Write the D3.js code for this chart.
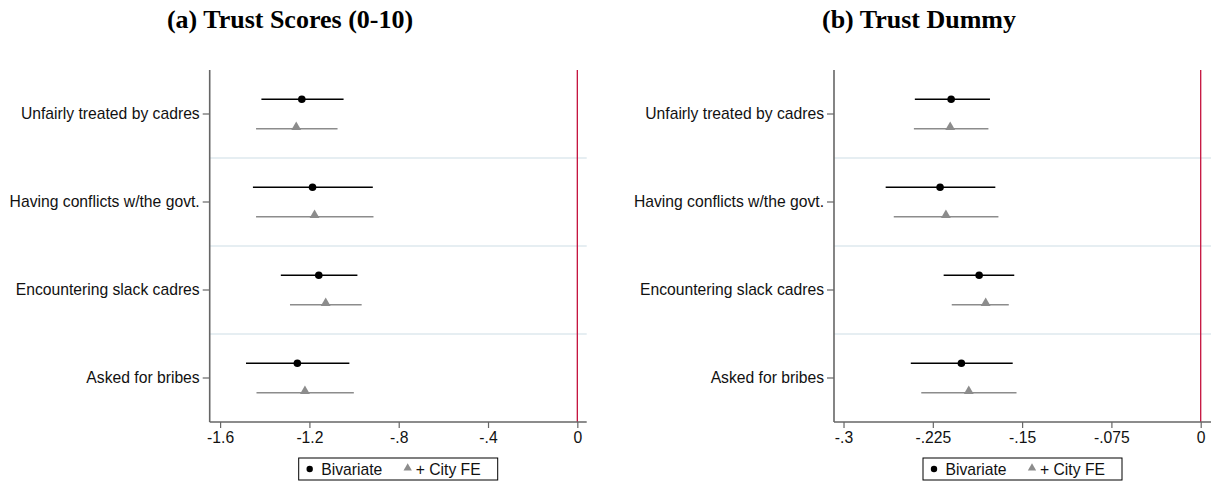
<!DOCTYPE html>
<html>
<head>
<meta charset="utf-8">
<script src="https://cdn.jsdelivr.net/npm/d3@7"></script>
<style>
body { margin: 0; background: #fff; }
text { font-family: "Liberation Sans", Arial, sans-serif; }
.title { font-family: "Liberation Serif", "Times New Roman", serif; font-weight: bold; }
</style>
</head>
<body>
<script>

// categories, top to bottom
var categories = ["Unfairly treated by cadres", "Having conflicts w/the govt.",
                  "Encountering slack cadres", "Asked for bribes"];

// panel (a): [estimate, ci low, ci high]
var scoreBivariate = [[-1.234, -1.415, -1.047], [-1.186, -1.453, -0.916],
                      [-1.158, -1.328, -0.985], [-1.254, -1.484, -1.021]];
var scoreCityFE    = [[-1.259, -1.439, -1.074], [-1.177, -1.439, -0.913],
                      [-1.127, -1.287, -0.966], [-1.220, -1.437, -1.001]];
var scoreTicks = [-1.6, -1.2, -0.8, -0.4, 0];
var scoreTickLabels = ["-1.6", "-1.2", "-.8", "-.4", "0"];

// panel (b)
var dummyBivariate = [[-0.2096, -0.2401, -0.1770], [-0.2189, -0.2646, -0.1725],
                      [-0.1861, -0.2159, -0.1566], [-0.2010, -0.2435, -0.1579]];
var dummyCityFE    = [[-0.2104, -0.2409, -0.1783], [-0.2140, -0.2578, -0.1699],
                      [-0.1806, -0.2091, -0.1612], [-0.1948, -0.2347, -0.1547]];
var dummyTicks = [-0.3, -0.225, -0.15, -0.075, 0];
var dummyTickLabels = ["-.3", "-.225", "-.15", "-.075", "0"];

var legendLabels = ["Bivariate", "+ City FE"];

var width = 1216, height = 489;
var plotTop = 70, plotBottom = 422;

var svg = d3.select("body").append("svg")
    .attr("width", width)
    .attr("height", height);

function drawPanel(opts) {
    var g = svg.append("g");
    var x = d3.scaleLinear().domain(opts.domain).range([opts.left, opts.right]);
    var y = d3.scaleBand().domain(categories).range([plotTop, plotBottom]);
    var off = 14.7;

    g.append("text").attr("class", "title")
        .attr("x", opts.titleX).attr("y", 28)
        .attr("text-anchor", "middle")
        .attr("font-size", 26)
        .text(opts.title);

    // band separators
    g.selectAll(".sep").data(categories.slice(1)).enter().append("line")
        .attr("x1", opts.left).attr("x2", opts.right)
        .attr("y1", function(d){ return y(d); })
        .attr("y2", function(d){ return y(d); })
        .attr("stroke", "#e6eef2").attr("stroke-width", 1.8);

    // zero line
    g.append("line")
        .attr("x1", x(0)).attr("x2", x(0))
        .attr("y1", plotTop).attr("y2", plotBottom)
        .attr("stroke", "#c4103c").attr("stroke-width", 1.3);

    // y axis
    var yAxis = d3.axisLeft(y).tickSize(7).tickPadding(3);
    var ya = g.append("g").attr("transform", "translate(" + opts.left + ",0)").call(yAxis);
    ya.select(".domain").remove();
    ya.selectAll("line").attr("stroke", "#666").attr("stroke-width", 1.2);
    ya.selectAll("text").attr("font-size", 15.7).attr("fill", "#111")
        .attr("font-family", "Liberation Sans, Arial, sans-serif");
    g.append("line")
        .attr("x1", opts.left).attr("x2", opts.left)
        .attr("y1", plotTop).attr("y2", plotBottom)
        .attr("stroke", "#666").attr("stroke-width", 1.6);

    // x axis
    var xAxis = d3.axisBottom(x).tickValues(opts.ticks)
        .tickFormat(function(d, i){ return opts.tickLabels[i]; })
        .tickSize(6).tickPadding(4);
    var xa = g.append("g").attr("transform", "translate(0," + plotBottom + ")").call(xAxis);
    xa.select(".domain").remove();
    xa.selectAll("line").attr("stroke", "#666").attr("stroke-width", 1.2);
    xa.selectAll("text").attr("font-size", 15.7).attr("fill", "#111")
        .attr("font-family", "Liberation Sans, Arial, sans-serif");
    g.append("line")
        .attr("x1", opts.left).attr("x2", opts.right)
        .attr("y1", plotBottom).attr("y2", plotBottom)
        .attr("stroke", "#666").attr("stroke-width", 1.6);

    var yc = function(i){ return y(categories[i]) + y.bandwidth() / 2; };

    // city FE (gray)
    g.selectAll(".fe").data(opts.fe).enter().append("line")
        .attr("x1", function(d){ return x(d[1]); })
        .attr("x2", function(d){ return x(d[2]); })
        .attr("y1", function(d, i){ return yc(i) + off; })
        .attr("y2", function(d, i){ return yc(i) + off; })
        .attr("stroke", "#8c8c8c").attr("stroke-width", 1.6);
    g.selectAll(".fetri").data(opts.fe).enter().append("path")
        .attr("d", d3.symbol().type(d3.symbolTriangle).size(42))
        .attr("transform", function(d, i){
            return "translate(" + x(d[0]) + "," + (yc(i) + off - 1.5) + ")";
        })
        .attr("fill", "#8c8c8c");

    // bivariate (black)
    g.selectAll(".bv").data(opts.biv).enter().append("line")
        .attr("x1", function(d){ return x(d[1]); })
        .attr("x2", function(d){ return x(d[2]); })
        .attr("y1", function(d, i){ return yc(i) - off; })
        .attr("y2", function(d, i){ return yc(i) - off; })
        .attr("stroke", "#000").attr("stroke-width", 1.6);
    g.selectAll(".bvdot").data(opts.biv).enter().append("circle")
        .attr("cx", function(d){ return x(d[0]); })
        .attr("cy", function(d, i){ return yc(i) - off; })
        .attr("r", 3.8).attr("fill", "#000");

    // legend
    var cx = (opts.left + opts.right) / 2;
    var lg = g.append("g").attr("transform", "translate(" + (cx - 99.5) + ",458)");
    lg.append("rect").attr("width", 199).attr("height", 22)
        .attr("fill", "#fff").attr("stroke", "#000").attr("stroke-width", 1);
    lg.append("circle").attr("cx", 11).attr("cy", 11).attr("r", 3.2).attr("fill", "#000");
    lg.append("text").attr("x", 22.5).attr("y", 16.5).attr("font-size", 15.7).attr("fill", "#111")
        .text(legendLabels[0]);
    lg.append("path")
        .attr("d", d3.symbol().type(d3.symbolTriangle).size(30))
        .attr("transform", "translate(109,10)")
        .attr("fill", "#8c8c8c");
    lg.append("text").attr("x", 117).attr("y", 16.5).attr("font-size", 15.7).attr("fill", "#111")
        .text(legendLabels[1]);
}

drawPanel({
    title: "(a) Trust Scores (0-10)", titleX: 290,
    left: 209.7, right: 586.7, domain: [-1.6466, 0.042],
    ticks: scoreTicks, tickLabels: scoreTickLabels,
    biv: scoreBivariate, fe: scoreCityFE
});

drawPanel({
    title: "(b) Trust Dummy", titleX: 919,
    left: 834, right: 1211, domain: [-0.308, 0.00865],
    ticks: dummyTicks, tickLabels: dummyTickLabels,
    biv: dummyBivariate, fe: dummyCityFE
});

</script>
</body>
</html>
